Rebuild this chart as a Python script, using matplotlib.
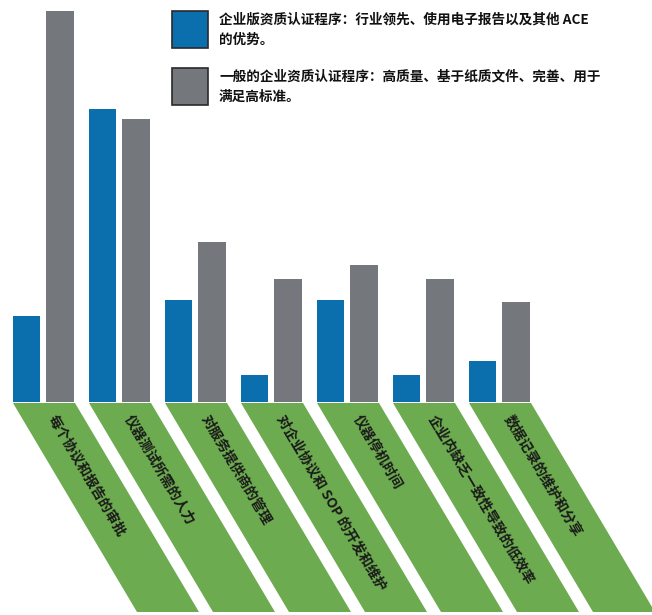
import matplotlib
matplotlib.use("Agg")
import matplotlib.pyplot as plt
from matplotlib.patches import Polygon, Rectangle
import numpy as np

plt.rcParams['font.family'] = ['Noto Sans CJK SC', 'DejaVu Sans']

categories = [
    "每个协议和报告的审批",
    "仪器测试所需的人力",
    "对服务提供商的管理",
    "对企业协议和 SOP 的开发和维护",
    "仪器停机时间",
    "企业内缺乏一致性导致的低效率",
    "数据记录的维护和分享",
]
enterprise = [22, 75, 26, 7, 26, 7, 10.5]
general = [100, 72.4, 41, 31.5, 35, 31.5, 25.6]
legend_labels = [
    "企业版资质认证程序：行业领先、使用电子报告以及其他 ACE\n的优势。",
    "一般的企业资质认证程序：高质量、基于纸质文件、完善、用于\n满足高标准。",
]

BLUE = "#0b6fae"
GRAY = "#74777b"
GREEN = "#6cab4f"

W, H = 652, 615
fig = plt.figure(figsize=(W / 100, H / 100), dpi=100)
ax = fig.add_axes([0, 0, 1, 1])
ax.axis('off')

# pixel scale
PXX = 76.0      # pixels per group
PXY = 3.91      # pixels per value unit
X0 = 43.1       # pixel x of first group center
Y0 = 402.0      # pixel y of baseline
ax.set_xlim((0 - X0) / PXX, (W - X0) / PXX)
ax.set_ylim(-(H - Y0) / PXY, Y0 / PXY)

x = np.arange(len(categories))
off = 16.65 / PXX
bw = 27.5 / PXX
ax.bar(x - off, enterprise, width=bw, color=BLUE, zorder=3)
ax.bar(x + off, general, width=bw, color=GRAY, zorder=3)

# slanted green label bands
top_py, bot_py = 403.0, 612.0
shift_px = 124.0
band_w = 62.0
ang = np.degrees(np.arctan2(bot_py - top_py, shift_px))

def d(px, py):
    return ((px - X0) / PXX, (Y0 - py) / PXY)

for i, lab in enumerate(categories):
    left = 13 + PXX * i
    pts = [d(left, top_py), d(left + band_w, top_py),
           d(left + band_w + shift_px, bot_py), d(left + shift_px, bot_py)]
    ax.add_patch(Polygon(pts, closed=True, facecolor=GREEN, edgecolor='none', zorder=2, clip_on=False))
    sy = 416.0
    sx = left + band_w / 2 + (sy - top_py) * shift_px / (bot_py - top_py)
    tx, ty = d(sx, sy)
    ax.text(tx, ty, lab, rotation=-ang, rotation_mode='anchor', ha='left', va='center',
            fontsize=10, fontweight='bold', color='#1a1a1a', zorder=4)

# legend
for j, (col, lab) in enumerate(zip([BLUE, GRAY], legend_labels)):
    top = 11 + 57 * j
    fig.patches.append(Rectangle((172 / W, 1 - (top + 37) / H), 36 / W, 37 / H,
                                 transform=fig.transFigure, facecolor=col,
                                 edgecolor='#2a2a2a', linewidth=1.2))
    for k, line in enumerate(lab.split("\n")):
        fig.text(219 / W, 1 - (top + 9 + 20 * k) / H, line, ha='left', va='center',
                 fontsize=9.8, fontweight='bold', color='#111111')

fig.savefig("out.png", dpi=100)
